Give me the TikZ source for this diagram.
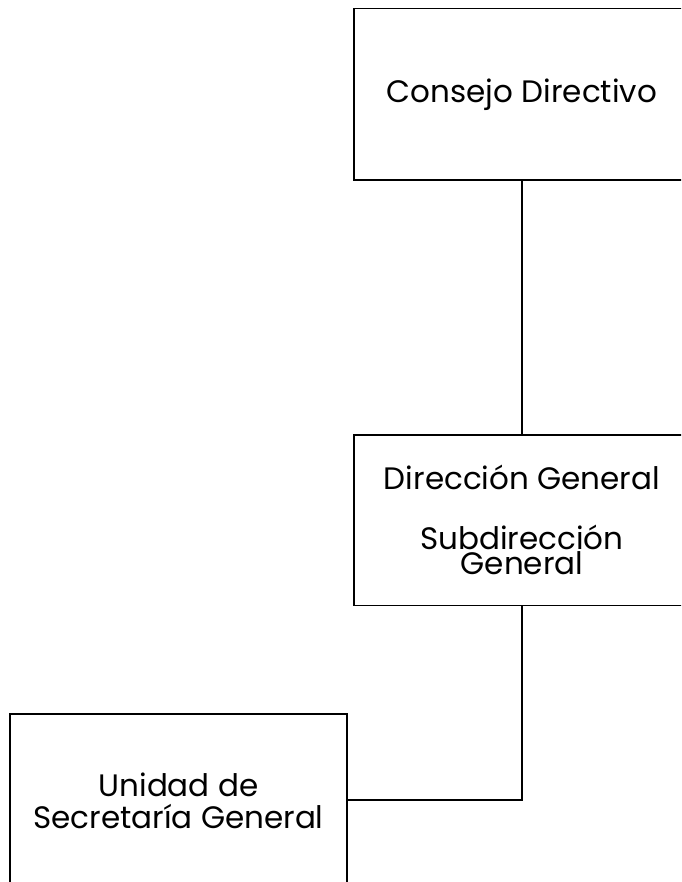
\documentclass[tikz,border=0pt]{standalone}
\usepackage{fontspec}
\setmainfont{Poppins}
\begin{document}
\begin{tikzpicture}[x=1pt,y=1pt,
  txt/.style={align=center, font=\fontsize{31}{34}\selectfont},
  box/.style={draw=black, line width=1.8pt, rectangle, fill=white, inner sep=0pt, txt},
  conn/.style={draw=black, line width=1.8pt}]
\useasboundingbox (0,0) rectangle (681,-882);
\clip (0,0) rectangle (681,-882);
\node[box, minimum width=336pt, minimum height=171.5pt] (cd) at (522,-94.25) {Consejo Directivo};
\node[box, minimum width=336pt, minimum height=170.5pt] (dg) at (522,-520.25) {Direcci\'on General\\[26pt]Subdirecci\'on\\[-9pt]General};
\node[box, minimum width=337pt, minimum height=172pt] (us) at (178.5,-800) {};
\node[txt, inner sep=0pt] (ust) at (178.5,-801) {Unidad de\\[-2pt]Secretar\'ia General};
\draw[conn] (cd.south) -- (dg.north);
\draw[conn] (dg.south) |- (us.east);
\end{tikzpicture}
\end{document}
